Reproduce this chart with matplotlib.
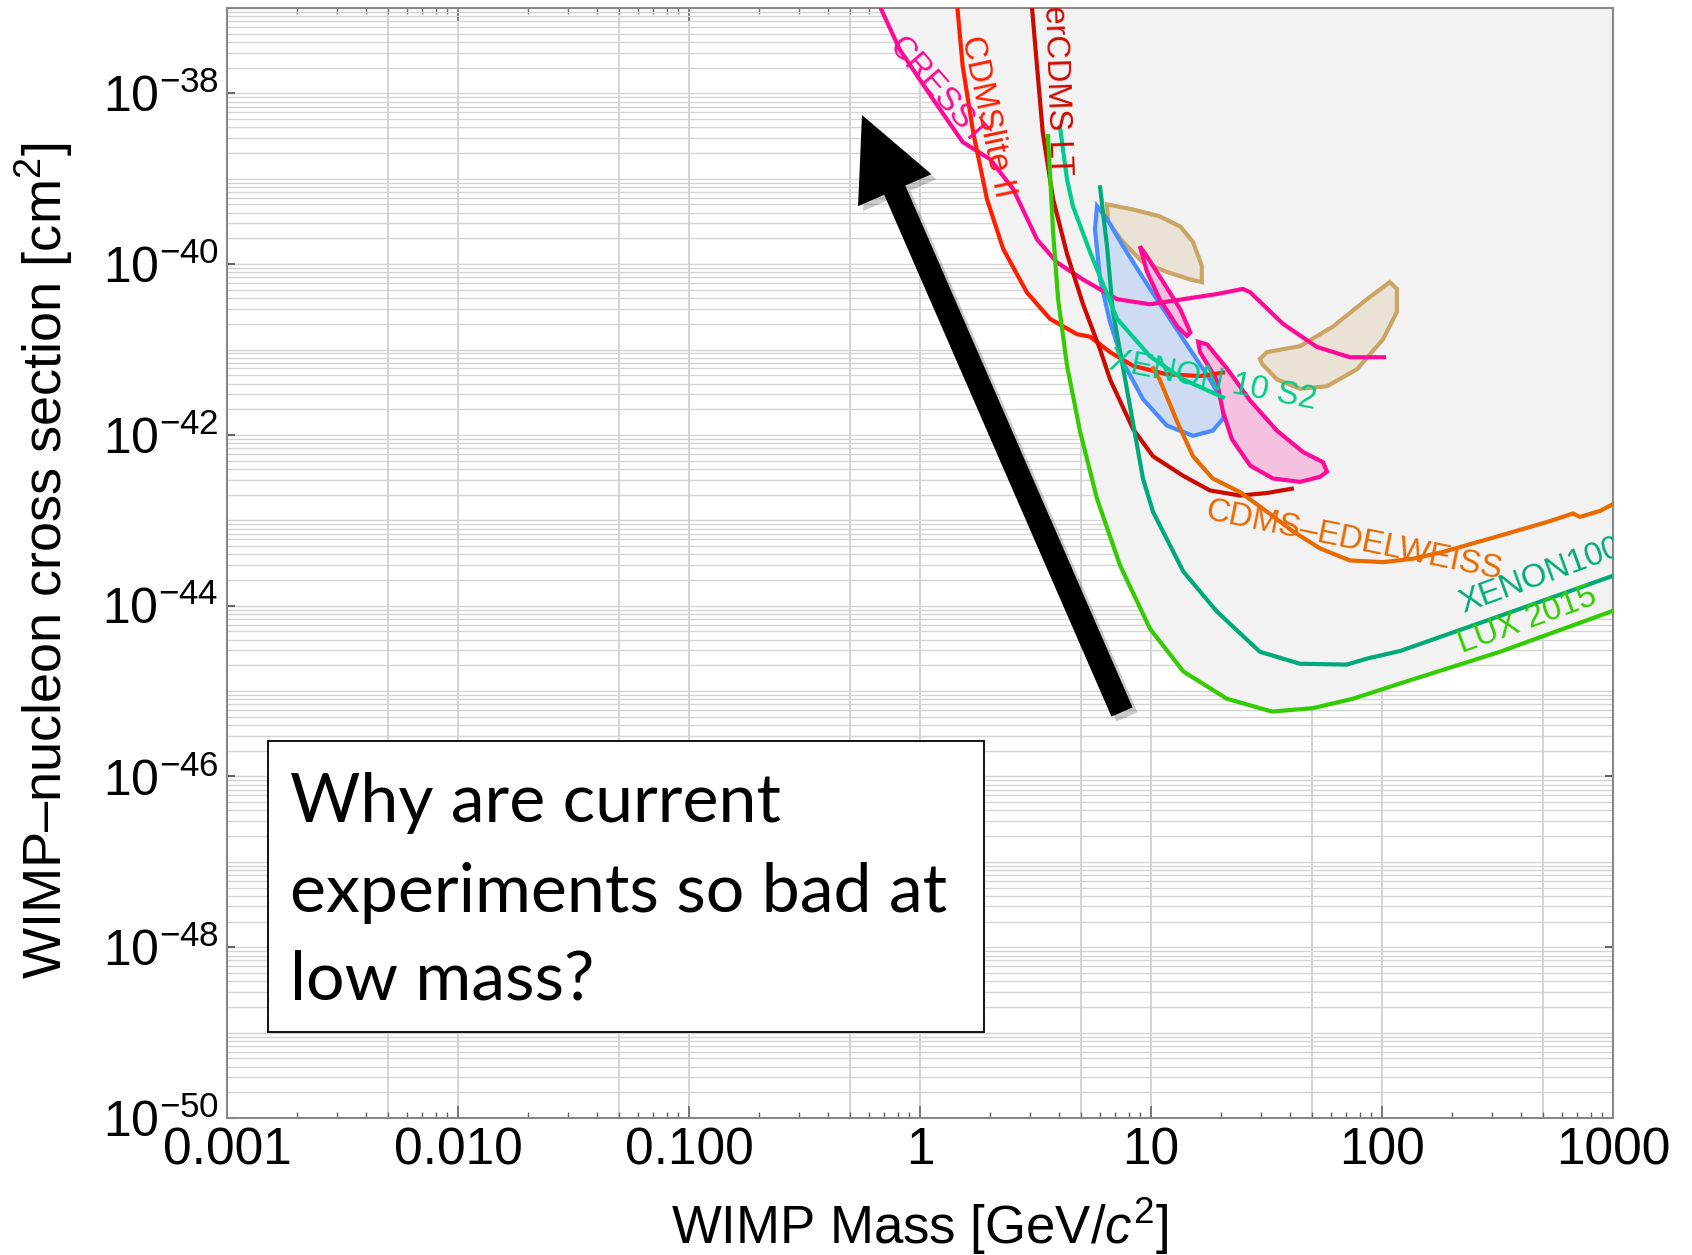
import numpy as np
import matplotlib.pyplot as plt
from matplotlib.ticker import LogLocator, NullFormatter
from matplotlib.patches import Rectangle, FancyArrow
from matplotlib.transforms import IdentityTransform

plt.rcParams['font.family'] = ['Liberation Sans', 'DejaVu Sans']
plt.rcParams['mathtext.fontset'] = 'custom'
plt.rcParams['mathtext.rm'] = 'Liberation Sans'
plt.rcParams['mathtext.it'] = 'Liberation Sans:italic'
plt.rcParams['mathtext.default'] = 'regular'

W, H = 1692, 1255

# ---- limit curves: WIMP mass [GeV] and log10(cross section [cm^2]) ----
cresst_m = [0.63, 0.67, 0.818, 1.14, 1.53, 2.01, 2.53, 3.21, 3.92, 5.08, 7.13, 9.91,
            13.8, 19.3, 25.0, 26.9, 37.3, 52.3, 72.6, 102]
cresst_logsig = [-36.75, -36.98, -37.49, -38.07, -38.57, -38.77, -39.12, -39.71, -39.98,
                 -40.18, -40.41, -40.47, -40.41, -40.35, -40.29, -40.33, -40.70, -40.97,
                 -41.09, -41.09]

cdmslite_m = [1.42, 1.45, 1.53, 1.70, 1.95, 2.29, 2.90, 3.65, 4.78, 5.45, 6.65, 8.36,
              11.7, 16.3, 20.5]
cdmslite_logsig = [-36.7, -36.98, -37.68, -38.46, -39.24, -39.82, -40.33, -40.64, -40.82,
                   -40.85, -41.03, -41.19, -41.29, -41.31, -41.27]

supercdms_m = [3.0, 3.05, 3.21, 3.40, 3.77, 4.33, 5.08, 6.02, 6.65, 8.36, 10.2, 13.8,
               18.0, 24.3, 31.8, 40.7]
supercdms_logsig = [-36.8, -36.98, -37.68, -38.46, -39.24, -39.88, -40.47, -41.0, -41.35,
                    -41.93, -42.25, -42.48, -42.65, -42.71, -42.68, -42.63]

xenon10_m = [4.04, 4.33, 4.59, 5.45, 7.13, 9.91, 13.8, 20.5]
xenon10_logsig = [-38.40, -39.01, -39.32, -39.86, -40.64, -41.08, -41.35, -41.56]

xenon100_m = [6.02, 6.45, 6.84, 7.73, 9.23, 10.2, 13.8, 19.3, 29.6, 44.2, 70.5, 86.0,
              120, 324, 1000]
xenon100_logsig = [-39.10, -39.79, -40.56, -41.35, -42.51, -42.90, -43.60, -44.07, -44.54,
                   -44.68, -44.69, -44.62, -44.53, -44.12, -43.65]

lux_m = [3.58, 3.77, 3.96, 4.33, 4.93, 5.84, 7.35, 9.9, 13.8, 21.3, 33.4, 50.2, 74.8,
         120, 324, 1000]
lux_logsig = [-38.50, -39.63, -40.41, -41.19, -41.96, -42.75, -43.53, -44.27, -44.77,
              -45.09, -45.24, -45.20, -45.09, -44.91, -44.54, -44.06]

edelweiss_m = [10.2, 10.9, 13.0, 15.2, 18.5, 24.3, 31.8, 41.2, 54.0, 72.6, 101, 136, 184,
               324, 533, 671, 720, 879, 1000]
edelweiss_logsig = [-41.22, -41.35, -41.85, -42.25, -42.51, -42.67, -42.90, -43.13,
                    -43.33, -43.47, -43.49, -43.45, -43.37, -43.18, -43.01, -42.92,
                    -42.96, -42.89, -42.81]

# ---- signal regions (closed contours) ----
cogent_m = [5.84, 5.72, 6.02, 6.65, 7.57, 9.23, 11.7, 15.2, 18.5, 20.5, 20.9, 18.0, 13.8,
            9.91, 7.57, 6.45]
cogent_logsig = [-39.32, -39.59, -40.18, -40.68, -41.15, -41.58, -41.89, -42.01, -41.95,
                 -41.81, -41.66, -41.35, -40.88, -40.29, -39.79, -39.47]

dama1_m = [6.45, 8.36, 10.9, 13.4, 15.2, 16.6, 16.6, 14.8, 11.7, 9.23, 7.57, 6.52]
dama1_logsig = [-39.30, -39.36, -39.44, -39.56, -39.74, -40.02, -40.21, -40.18, -40.09,
                -39.98, -39.74, -39.51]

dama2_m = [29.6, 31.8, 44.2, 61.4, 86.1, 108, 116, 116, 101, 78.0, 57.8, 44.2, 35.1, 30.3]
dama2_logsig = [-41.11, -41.03, -40.96, -40.73, -40.41, -40.21, -40.29, -40.56, -40.88,
                -41.23, -41.43, -41.46, -41.35, -41.17]

cresst1_m = [8.95, 9.61, 11.3, 13.4, 14.8, 14.3, 13.0, 10.9, 9.61]
cresst1_logsig = [-39.79, -39.91, -40.21, -40.53, -40.80, -40.84, -40.73, -40.41, -40.09]

cresst2_m = [16.0, 17.5, 21.3, 26.9, 35.1, 45.5, 55.6, 57.8, 54.0, 44.2, 33.7, 26.9,
             22.4, 20.5, 19.2, 16.3]
cresst2_logsig = [-40.91, -40.94, -41.22, -41.60, -41.95, -42.20, -42.32, -42.43, -42.49,
                  -42.55, -42.51, -42.36, -42.05, -41.73, -41.35, -41.03]

x_ticks = [1e-3, 1e-2, 1e-1, 1, 10, 100, 1000]
x_ticklabels = ['0.001', '0.010', '0.100', '1', '10', '100', '1000']
y_exponents = [-50, -48, -46, -44, -42, -40, -38]
grid5 = [5e-3, 5e-2, 5e-1, 5, 50, 500]

question = ['Why are current', 'experiments so bad at', 'low mass?']


def sig(a):
    return 10.0 ** np.array(a)


fig = plt.figure(figsize=(W / 100, H / 100), dpi=100)
ax = fig.add_axes([227 / W, 1 - 1118 / H, (1613 - 227) / W, (1118 - 8) / H])
ax.set_xscale('log')
ax.set_yscale('log')
ax.set_xlim(1e-3, 1e3)
ax.set_ylim(1e-50, 1e-37)

# grid
ax.set_axisbelow(True)
gcol = '#d4d4d4'
ax.yaxis.set_minor_locator(LogLocator(base=10, subs=np.arange(1, 10), numticks=400))
ax.yaxis.set_minor_formatter(NullFormatter())
ax.xaxis.set_minor_locator(LogLocator(base=10, subs=np.arange(2, 10), numticks=100))
ax.xaxis.set_minor_formatter(NullFormatter())
ax.grid(True, which='major', axis='x', color=gcol, lw=1.4)
ax.grid(True, which='both', axis='y', color=gcol, lw=1.0)
ax.vlines(grid5, 1e-50, 1e-37, colors=gcol, lw=1.4, zorder=0.5)

# excluded region (above the most sensitive limit)
limits = [(cresst_m, cresst_logsig), (cdmslite_m, cdmslite_logsig),
          (supercdms_m, supercdms_logsig), (xenon10_m, xenon10_logsig),
          (xenon100_m, xenon100_logsig), (lux_m, lux_logsig),
          (edelweiss_m, edelweiss_logsig)]
lgm = np.linspace(np.log10(0.5), 3.0, 4000)
env = np.full_like(lgm, np.inf)
for m, s in limits:
    v = np.interp(lgm, np.log10(m), s, left=np.inf, right=np.inf)
    env = np.minimum(env, v)
env = np.where(np.isinf(env), -30.0, env)
ax.fill_between(10 ** lgm, 10 ** env, 1e-30, color='#f2f2f2', lw=0, zorder=1)

# signal regions
lw = 3.0
ax.fill(dama1_m, sig(dama1_logsig), facecolor='#eae2d5', edgecolor='#caa565', lw=lw, zorder=2)
ax.fill(dama2_m, sig(dama2_logsig), facecolor='#eae2d5', edgecolor='#caa565', lw=lw, zorder=2)
ax.fill(cogent_m, sig(cogent_logsig), facecolor='#cddcf3', edgecolor='#4a8cff', lw=lw, zorder=2)
ax.fill(cresst1_m, sig(cresst1_logsig), facecolor='#f4c2e0', edgecolor='#ff0a96', lw=lw, zorder=2)
ax.fill(cresst2_m, sig(cresst2_logsig), facecolor='#f4c2e0', edgecolor='#ff0a96', lw=lw, zorder=2)

# limit curves
ax.plot(cresst_m, sig(cresst_logsig), color='#ff0a96', lw=lw, zorder=3)
ax.plot(cdmslite_m, sig(cdmslite_logsig), color='#ff1e00', lw=lw, zorder=3)
ax.plot(supercdms_m, sig(supercdms_logsig), color='#cc0a00', lw=lw, zorder=3)
ax.plot(lux_m, sig(lux_logsig), color='#33cc00', lw=lw, zorder=3)
ax.plot(xenon100_m, sig(xenon100_logsig), color='#00aa78', lw=lw, zorder=3)
ax.plot(xenon10_m, sig(xenon10_logsig), color='#00cc8c', lw=lw, zorder=3)
ax.plot(edelweiss_m, sig(edelweiss_logsig), color='#e86a00', lw=lw, zorder=3)

# curve labels
fs = 23.5
ax.text(1.19, 10 ** -37.98, 'CRESST', color='#ff0a96', fontsize=fs, rotation=-49,
        ha='center', va='center', zorder=4)
ax.text(1.95, 10 ** -38.27, 'CDMSlite II', color='#ff1e00', fontsize=fs, rotation=-78,
        ha='center', va='center', zorder=4)
ax.text(3.84, 10 ** -37.63, 'SuperCDMS LT', color='#cc0a00', fontsize=fs, rotation=-88,
        ha='center', va='center', zorder=4, clip_on=True)
ax.text(6.52, 10 ** -41.23, 'XENON 10 S2', color='#00cc8c', fontsize=fs, rotation=-11,
        ha='left', va='baseline', rotation_mode='anchor', zorder=4)
ax.text(17.1, 10 ** -42.99, 'CDMS\u2013EDELWEISS', color='#e86a00', fontsize=fs,
        rotation=-11.5, ha='left', va='baseline', rotation_mode='anchor', zorder=4)
ax.text(224, 10 ** -44.09, 'XENON100', color='#00aa78', fontsize=fs, rotation=20,
        ha='left', va='baseline', rotation_mode='anchor', zorder=4, clip_on=True)
ax.text(222, 10 ** -44.55, 'LUX 2015', color='#33cc00', fontsize=fs, rotation=20,
        ha='left', va='baseline', rotation_mode='anchor', zorder=4)

# ticks
ax.set_xticks(x_ticks, labels=x_ticklabels)
ax.set_yticks([10.0 ** e for e in y_exponents],
              labels=['$10^{%d}$' % e for e in y_exponents])
ax.tick_params(axis='x', which='major', direction='in', top=True, length=9, width=1.2,
               color='#666666', labelsize=37, pad=6)
ax.tick_params(axis='x', which='minor', direction='in', top=True, length=4.5, width=1.0,
               color='#666666')
ax.tick_params(axis='y', which='major', direction='in', right=True, length=6, width=1.5,
               color='#666666', labelsize=36, pad=6)
ax.tick_params(axis='y', which='minor', length=0)
for sp in ax.spines.values():
    sp.set_color('#888888')
    sp.set_linewidth(1.5)

fig.text(44 / W, 1 - 561 / H, 'WIMP\u2013nucleon cross section [cm$^2$]', rotation=90,
         ha='center', va='center', fontsize=39)
fig.text(920 / W, 1 - 1244 / H, 'WIMP Mass [GeV/$\\mathit{c}^2$]', ha='center',
         va='baseline', fontsize=38)

# arrow with soft shadow (figure pixels)
tail = (1122, H - 712)
tip = (862, H - 115)
dx, dy = tip[0] - tail[0], tip[1] - tail[1]
fig.add_artist(FancyArrow(tail[0] + 5, tail[1] - 5, dx, dy, width=23, head_width=80,
                          head_length=82, length_includes_head=True, color=(0, 0, 0, 0.2),
                          lw=0, transform=IdentityTransform()))
fig.add_artist(FancyArrow(tail[0], tail[1], dx, dy, width=23, head_width=80,
                          head_length=82, length_includes_head=True, color='black',
                          lw=0, transform=IdentityTransform()))

# question box
fig.add_artist(Rectangle((268 / W, 1 - 1032 / H), (984 - 268) / W, (1032 - 741) / H,
                         transform=fig.transFigure, facecolor='white', edgecolor='black',
                         lw=1.3))
for line, yb in zip(question, [822, 912, 1000]):
    fig.text(290 / W, 1 - yb / H, line, fontfamily='Lato', fontsize=49, ha='left',
             va='baseline')

fig.savefig('out.png', dpi=100)
